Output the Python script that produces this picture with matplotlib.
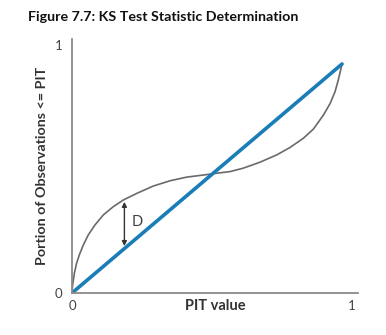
import matplotlib.pyplot as plt

# reference CDF (uniform) and observed PIT cdf
uniform_x = [0.0, 1.0]
uniform_y = [0.0, 1.0]

pit_x = [0.0, 0.001, 0.004, 0.009, 0.017, 0.027, 0.042, 0.060, 0.085, 0.116,
         0.153, 0.190, 0.240, 0.301, 0.363, 0.425, 0.486, 0.536, 0.585, 0.634,
         0.696, 0.758, 0.807, 0.857, 0.894, 0.931, 0.956, 0.974, 0.986, 0.995, 1.0]
pit_y = [0.0, 0.020, 0.048, 0.088, 0.130, 0.166, 0.210, 0.253, 0.297, 0.341,
         0.377, 0.406, 0.435, 0.467, 0.490, 0.506, 0.515, 0.523, 0.530, 0.545,
         0.571, 0.603, 0.635, 0.676, 0.716, 0.777, 0.828, 0.879, 0.930, 0.975, 1.0]

# location of the largest gap
d_x = 0.194
d_top = 0.398
d_bottom = 0.205

fig = plt.figure(figsize=(3.86, 3.35), dpi=100)
ax = fig.add_axes([72 / 386, 1 - 293 / 335, 286 / 386, 254 / 335])

ax.plot(pit_x, pit_y, color="#6a6a6a", lw=1.2, solid_capstyle="round")
ax.plot(uniform_x, uniform_y, color="#1a7db8", lw=2.6, solid_capstyle="round")

ax.annotate("", xy=(d_x, d_top), xytext=(d_x, d_bottom),
            arrowprops=dict(arrowstyle="<|-|>", color="#333333", lw=1.0,
                            mutation_scale=7, shrinkA=0, shrinkB=0))
ax.text(d_x + 0.025, (d_top + d_bottom) / 2 + 0.01, "D", fontsize=10.5,
        color="#404040", family="Lato", va="center", ha="left")

ax.set_xlim(0, 1.059)
ax.set_ylim(0, 1.109)

for side in ["top", "right"]:
    ax.spines[side].set_visible(False)
for side in ["left", "bottom"]:
    ax.spines[side].set_color("#8a8a8a")
    ax.spines[side].set_linewidth(1.3)

ax.set_xticks([0, 1.037], ["0", "1"])
ax.set_yticks([0, 1.083], ["0", "1"])
ax.tick_params(length=0, labelsize=9.5, labelcolor="#444444")
for lab in ax.get_xticklabels() + ax.get_yticklabels():
    lab.set_family("Lato")
ax.tick_params(axis="x", pad=5)
ax.tick_params(axis="y", pad=7)

ax.set_xlabel("PIT value", family="Lato", fontweight="bold", fontsize=10.5,
              color="#333333", labelpad=-9)
ax.set_ylabel("Portion of Observations <= PIT", family="Lato", fontweight="bold",
              fontsize=10.3, color="#333333", labelpad=5)

fig.text(28 / 386, 1 - 17 / 335, "Figure 7.7: KS Test Statistic Determination",
         family="Lato", fontweight="bold", fontsize=10.3, color="#111111",
         va="center", ha="left")

fig.savefig("out.png", dpi=100)
